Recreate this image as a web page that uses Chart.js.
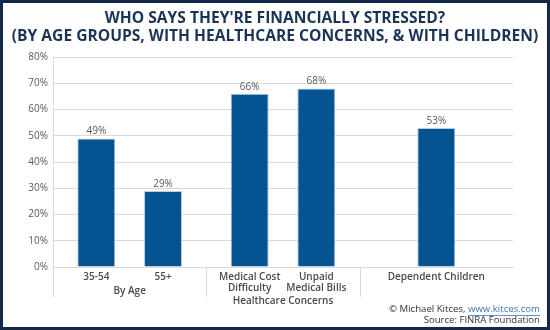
<!DOCTYPE html>
<html>
<head>
<meta charset="utf-8">
<script src="https://cdn.jsdelivr.net/npm/chart.js@4.4.0/dist/chart.umd.min.js"></script>
<style>
  html, body { margin: 0; padding: 0; background: #fff; }
  #wrap { width: 550px; height: 330px; position: relative; }
</style>
</head>
<body>
<div id="wrap"><canvas id="stress"></canvas></div>
<script>
// Share who say they're financially stressed, by group
const titleLines = ["WHO SAYS THEY'RE FINANCIALLY STRESSED?", '(BY AGE GROUPS, WITH HEALTHCARE CONCERNS, & WITH CHILDREN)'];
const groupNames = ['By Age', 'Healthcare Concerns', ''];
const itemLabels = [['35-54'], ['55+'], ['Medical Cost', 'Difficulty'], ['Unpaid', 'Medical Bills'], ['Dependent Children']];
const itemGroup = [0, 0, 1, 1, 2];
const stressedPct = [49, 29, 66, 68, 53];
const yTicks = [0, 10, 20, 30, 40, 50, 60, 70, 80];

const FONT = "'Open Sans', sans-serif";
const BAR_BLUE = '#065392';
const GREY_TEXT = '#595959';
const GRID = '#d9d9d9';

// one dataset per position inside a group, so a group's bars sit side by side
const slots = [];
itemGroup.forEach((g, i) => {
  const pos = itemGroup.slice(0, i).filter(x => x === g).length;
  if (!slots[pos]) slots[pos] = groupNames.map(() => null);
  slots[pos][g] = i;
});

const datasets = slots.map(idx => ({
  data: idx.map(i => (i === null ? null : stressedPct[i])),
  itemIndex: idx,
  backgroundColor: BAR_BLUE,
  borderColor: '#b9cfe6',
  borderWidth: 1,
  categoryPercentage: 0.87,
  barPercentage: 0.65,
  maxBarThickness: 38
}));

// centred two-line heading over the whole canvas
const heading = {
  id: 'heading',
  afterDraw(chart) {
    const ctx = chart.ctx;
    ctx.save();
    ctx.font = 'bold 15.6px ' + FONT;
    ctx.fillStyle = '#1b3456';
    ctx.textAlign = 'center';
    ctx.textBaseline = 'middle';
    titleLines.forEach((line, k) => ctx.fillText(line, chart.width / 2, 19 + k * 18));
    ctx.restore();
  }
};

// values above bars, category names under the axis, group names + dividers
const barLabels = {
  id: 'barLabels',
  afterDatasetsDraw(chart) {
    const ctx = chart.ctx;
    const xs = chart.scales.x;
    const bottom = chart.chartArea.bottom;
    const lineCount = groupNames.map(() => 1);
    ctx.save();
    ctx.textAlign = 'center';
    ctx.textBaseline = 'middle';
    chart.data.datasets.forEach((ds, d) => {
      chart.getDatasetMeta(d).data.forEach((bar, g) => {
        const i = ds.itemIndex[g];
        if (i === null) return;
        ctx.font = '10px ' + FONT;
        ctx.fillStyle = GREY_TEXT;
        ctx.fillText(stressedPct[i] + '%', bar.x, bar.y - 7);
        ctx.font = '600 10px ' + FONT;
        ctx.fillStyle = '#4a4a4a';
        itemLabels[i].forEach((line, k) => ctx.fillText(line, bar.x, bottom + 10 + k * 11));
        lineCount[g] = Math.max(lineCount[g], itemLabels[i].length);
      });
    });
    const half = (xs.getPixelForValue(1) - xs.getPixelForValue(0)) / 2;
    ctx.strokeStyle = GRID;
    ctx.lineWidth = 1;
    groupNames.forEach((name, g) => {
      const cx = xs.getPixelForValue(g);
      ctx.fillText(name, cx, bottom + 24 + (lineCount[g] - 1) * 10);
      const sx = Math.round(cx - half) + 0.5;
      ctx.beginPath();
      ctx.moveTo(sx, bottom);
      ctx.lineTo(sx, bottom + 30);
      ctx.stroke();
    });
    ctx.restore();
  }
};

// credit lines and the dark frame
const credits = {
  id: 'credits',
  afterDraw(chart) {
    const ctx = chart.ctx;
    const right = chart.width - 10;
    const bottom = chart.chartArea.bottom;
    ctx.save();
    ctx.font = '9.6px ' + FONT;
    ctx.textBaseline = 'middle';
    ctx.textAlign = 'left';
    const pre = '\u00A9 Michael Kitces, ';
    const link = 'www.kitces.com';
    const linkW = ctx.measureText(link).width;
    const preW = ctx.measureText(pre).width;
    const y1 = bottom + 42;
    ctx.fillStyle = '#333333';
    ctx.fillText(pre, right - linkW - preW, y1);
    ctx.fillStyle = '#3d74b8';
    ctx.fillText(link, right - linkW, y1);
    ctx.fillRect(right - linkW, y1 + 6, linkW, 0.8);
    ctx.fillStyle = '#333333';
    ctx.textAlign = 'right';
    ctx.fillText('Source: FINRA Foundation', right, y1 + 11);

    ctx.strokeStyle = '#13294b';
    ctx.lineWidth = 3;
    ctx.strokeRect(1.5, 1.5, chart.width - 3, chart.height - 3);
    ctx.restore();
  }
};

new Chart(document.getElementById('stress'), {
  type: 'bar',
  data: { labels: groupNames, datasets },
  options: {
    responsive: true,
    maintainAspectRatio: false,
    animation: false,
    skipNull: true,
    layout: { padding: { top: 57, left: 0, right: 37, bottom: 0 } },
    plugins: {
      legend: { display: false },
      tooltip: { enabled: false },
      title: { display: false }
    },
    scales: {
      x: {
        ticks: { display: false },
        grid: { display: false },
        border: { display: true, color: GRID },
        afterFit: s => { s.height = 63; }
      },
      y: {
        min: yTicks[0],
        max: yTicks[yTicks.length - 1],
        afterBuildTicks: s => { s.ticks = yTicks.map(v => ({ value: v })); },
        afterFit: s => { s.width = 53; },
        ticks: {
          color: GREY_TEXT,
          padding: 5,
          font: { family: FONT, size: 10 },
          callback: v => v + '%'
        },
        grid: { color: GRID, drawTicks: false },
        border: { display: true, color: GRID }
      }
    }
  },
  plugins: [heading, barLabels, credits]
});
</script>
</body>
</html>
